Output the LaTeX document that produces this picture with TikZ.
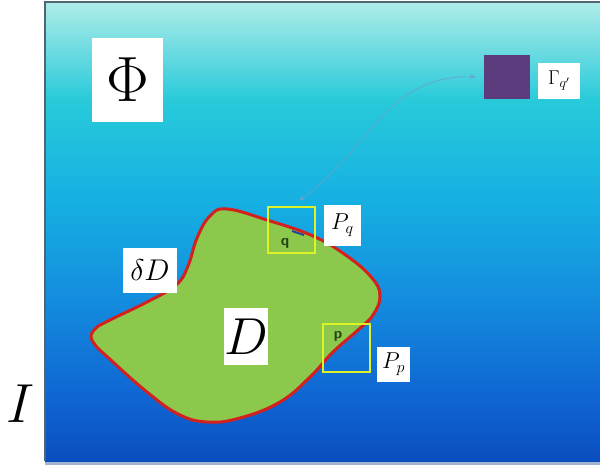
\RequirePackage{fix-cm}
\documentclass[tikz,border=0pt]{standalone}
\usetikzlibrary{arrows.meta}
\definecolor{bgA}{RGB}{10,78,190}
\definecolor{bgB}{RGB}{15,100,210}
\definecolor{bgC}{RGB}{20,140,222}
\definecolor{bgD}{RGB}{22,176,226}
\definecolor{bgE}{RGB}{40,202,218}
\definecolor{bgF}{RGB}{175,236,232}
\definecolor{blobgreen}{RGB}{140,200,75}
\definecolor{blobred}{RGB}{212,32,30}
\definecolor{boxyellow}{RGB}{222,242,40}
\definecolor{sqpurple}{RGB}{92,60,124}
\definecolor{conncol}{RGB}{110,160,200}
\definecolor{framecol}{RGB}{80,100,115}
\definecolor{ptgreen}{RGB}{35,65,20}
\pgfdeclareverticalshading{bgshade}{100bp}{color(0bp)=(bgA); color(25bp)=(bgA); color(31.6bp)=(bgB); color(42.5bp)=(bgC); color(53.4bp)=(bgD); color(64.3bp)=(bgE); color(75bp)=(bgF); color(100bp)=(bgF)}
\tikzset{
  lbl/.style={fill=white, inner sep=0pt, text=black},
  ybox/.style={draw=boxyellow, line width=2pt, inner sep=0pt},
  ptlbl/.style={text=ptgreen, font=\sffamily\bfseries\fontsize{15}{17}\selectfont, inner sep=0pt},
  conn/.style={draw=conncol, line width=0.9pt, opacity=0.75, {Stealth[length=6pt,width=5pt]}-{Stealth[length=6pt,width=5pt]}, shorten <=9pt, shorten >=8pt},
  blobstyle/.style={fill=blobgreen, draw=blobred, line width=3pt, line join=round}
}
\begin{document}
\begin{tikzpicture}[x=1pt,y=-1pt]
\useasboundingbox (0,0) rectangle (600,468);
\fill[white] (0,0) rectangle (600,468);
\shade[shading=bgshade] (45,2) rectangle (600,461);
\draw[draw=framecol, line width=1.2pt] (600,2) -- (45,2) -- (45,461);
\draw[draw={rgb,255:red,160;green,180;blue,205}, line width=3pt] (45,463) -- (600,463);
% region D
\draw[blobstyle] plot[smooth cycle, tension=0.7] coordinates {
 (227,209) (267,220) (313,236) (347,256) (372,278) (380,296) (373,315)
 (358,330) (333,352) (310,377) (280,402) (240,418) (207,422) (178,414)
 (147,392) (113,362) (93,342) (94,330) (108,321) (147,302) (176,285)
 (188,266) (197,238) (210,216)};
% small windows
\node[ybox, minimum width=47pt, minimum height=46pt] (pqbox) at (291.5,230) {};
\node[ybox, minimum width=47pt, minimum height=48pt] (ppbox) at (346.5,348) {};
\node[ptlbl] (q) at (285,243) {q};
\node[ptlbl] (p) at (338,336) {p};
\coordinate (qa) at (292,231);
\coordinate (qb) at (304,235);
\draw[draw={rgb,255:red,40;green,70;blue,150}, line width=2pt] (qa) -- (qb);
% target square
\node[fill=sqpurple, minimum width=46pt, minimum height=44pt, inner sep=0pt] (gam) at (507,77) {};
% connector
\draw[conn] (pqbox.north) .. controls (370,150) and (385,75) .. (gam.west);
% labels
\node[lbl, minimum width=71pt, minimum height=84pt] (phi) at (127.5,80) {\fontsize{64}{70}\selectfont$\Phi$};
\node[lbl, minimum width=54pt, minimum height=45pt] (dD) at (150,270.5) {\fontsize{30}{32}\selectfont$\delta D$};
\node[lbl, minimum width=44pt, minimum height=57pt] (Dl) at (246,336.5) {\fontsize{52}{56}\selectfont$D$};
\node[lbl, minimum width=37pt, minimum height=41pt] (Pql) at (342.5,225) {\fontsize{23}{25}\selectfont$P_q$};
\node[lbl, minimum width=33pt, minimum height=35pt] (Ppl) at (393.5,364) {\fontsize{23}{25}\selectfont$P_p$};
\node[lbl, minimum width=42pt, minimum height=36pt] (gl) at (559,81) {\fontsize{20}{22}\selectfont$\Gamma_{q'}$};
\node[inner sep=0pt] (Il) at (21,404) {\fontsize{55}{60}\selectfont$I$};
\end{tikzpicture}
\end{document}
